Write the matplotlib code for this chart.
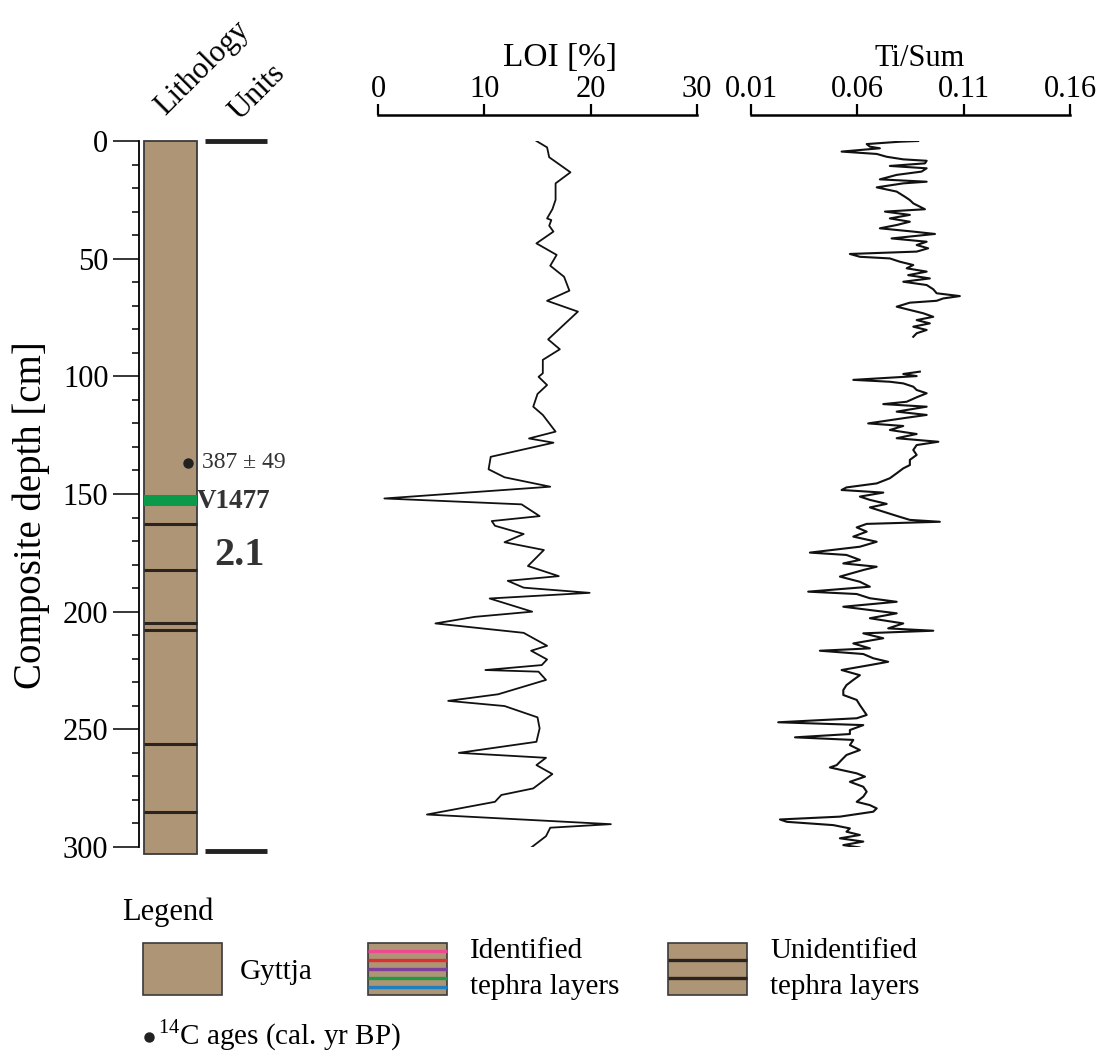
import matplotlib
matplotlib.use("Agg")
import matplotlib.pyplot as plt
import numpy as np
from matplotlib.patches import Rectangle

plt.rcParams['font.family'] = ['Liberation Serif', 'DejaVu Serif']
plt.rcParams['mathtext.fontset'] = 'custom'
plt.rcParams['mathtext.rm'] = 'Liberation Serif'

# LOI [%] against composite depth [cm]
loi_depth = [0.0, 2.7, 6.9, 13.3, 18.0, 25.0, 29.0, 32.9, 33.6, 36.0, 38.5, 43.5, 48.4, 53.0,
             57.7, 63.6, 67.9, 72.5, 84.3, 88.5, 93.0, 98.7, 100.2, 103.7, 107.5, 112.9, 116.4,
             123.5, 126.4, 128.2, 134.2, 139.5, 142.9, 146.9, 151.9, 154.4, 159.4, 161.5, 163.5,
             167.0, 170.5, 173.8, 180.6, 184.9, 186.9, 189.8, 192.0, 194.4, 200.0, 202.2, 205.0,
             209.0, 214.5, 216.6, 220.3, 222.7, 224.8, 225.5, 229.0, 235.1, 237.9, 240.1, 244.9,
             249.6, 255.3, 260.0, 262.1, 265.2, 269.0, 275.1, 277.9, 280.8, 286.2, 290.3, 291.8,
             295.4, 301.3]
loi_value = [14.9, 15.9, 16.1, 18.1, 16.7, 16.7, 16.4, 15.9, 16.3, 16.1, 16.5, 14.9, 16.8, 16.2,
             17.5, 18.0, 15.9, 18.8, 16.0, 17.1, 15.5, 15.5, 15.1, 15.9, 15.0, 14.6, 15.5,
             16.7, 14.2, 16.5, 10.6, 10.4, 11.9, 16.2, 0.6, 13.5, 15.2, 10.7, 11.0,
             13.7, 11.9, 15.6, 14.1, 17.0, 12.2, 13.7, 19.9, 10.5, 14.5, 9.1, 5.4,
             13.7, 15.9, 14.4, 15.9, 15.4, 10.1, 15.1, 15.8, 11.3, 6.6, 11.9, 15.0,
             15.2, 14.9, 7.6, 15.8, 14.9, 16.4, 14.6, 11.6, 11.0, 4.6, 21.9, 16.2,
             15.8, 14.1]

# Ti/Sum, upper section
ti_depth_1 = [0.0, 0.3, 1.3, 2.4, 3.1, 4.5, 5.5, 6.7, 7.8, 8.4, 9.5, 10.6, 11.6, 13.0, 14.4,
              16.3, 17.3, 18.0, 19.7, 21.5, 23.7, 25.1, 26.5, 29.0, 30.0, 31.4, 32.9, 34.3,
              35.7, 37.1, 38.5, 39.5, 41.4, 42.8, 44.2, 45.6, 47.0, 48.0, 49.2, 49.9, 51.3,
              52.7, 54.1, 55.5, 57.0, 58.4, 59.8, 61.2, 63.0, 64.7, 65.9, 66.9, 67.9, 68.7,
              70.4, 71.8, 73.2, 74.7, 76.1, 77.5, 78.9, 80.3, 81.7, 83.2]
ti_value_1 = [0.0886, 0.0800, 0.0644, 0.0659, 0.0706, 0.0526, 0.0691, 0.0738, 0.0816, 0.0926,
              0.0918, 0.0753, 0.0926, 0.0902, 0.0785, 0.0706, 0.0926, 0.0816, 0.0691, 0.0785,
              0.0824, 0.0847, 0.0863, 0.0918, 0.0730, 0.0847, 0.0753, 0.0847, 0.0785, 0.0706,
              0.0863, 0.0965, 0.0761, 0.0926, 0.0879, 0.0933, 0.0879, 0.0565, 0.0612, 0.0753,
              0.0800, 0.0863, 0.0832, 0.0926, 0.0839, 0.0941, 0.0816, 0.0926, 0.0957, 0.0973,
              0.1082, 0.1004, 0.0973, 0.0847, 0.0785, 0.0847, 0.0910, 0.0957, 0.0879, 0.0941,
              0.0863, 0.0926, 0.0879, 0.0863]

# Ti/Sum, lower section
ti_depth_2 = [98.0, 99.0, 99.9, 101.5, 102.3, 103.0, 104.4, 105.8, 107.2, 108.9, 110.8, 111.8,
              112.9, 115.0, 116.4, 117.8, 120.0, 121.1, 122.8, 124.5, 126.3, 127.8, 129.2,
              131.3, 133.4, 135.5, 137.7, 139.1, 141.2, 143.3, 145.5, 147.2, 148.3, 149.4,
              151.1, 152.5, 154.2, 155.7, 157.5, 159.3, 161.0, 161.8, 162.7, 164.2, 166.0,
              168.1, 170.3, 172.4, 174.9, 175.9, 178.0, 179.5, 180.9, 182.3, 185.1, 187.3,
              189.4, 191.5, 192.5, 194.3, 195.8, 197.9, 199.3, 200.7, 202.8, 205.0, 207.1,
              208.1, 209.2, 211.3, 213.5, 215.6, 216.6, 218.0, 219.8, 221.3, 222.7, 224.8,
              227.0, 229.0, 231.2, 233.3, 235.4, 237.5, 239.7, 241.8, 243.9, 245.3, 247.0,
              248.2, 250.3, 252.0, 253.4, 254.5, 256.7, 258.8, 260.9, 263.0, 265.2, 266.2,
              268.7, 270.1, 272.3, 274.4, 276.5, 278.6, 280.8, 282.2, 283.6, 285.0, 287.1,
              288.3, 289.3, 290.7, 292.1, 293.5, 294.9, 296.3, 297.7, 299.2, 300.2, 301.0]
ti_value_2 = [0.0894, 0.0816, 0.0879, 0.0581, 0.0753, 0.0816, 0.0863, 0.0879, 0.0926, 0.0879,
              0.0832, 0.0722, 0.0926, 0.0785, 0.0926, 0.0816, 0.0651, 0.0816, 0.0753, 0.0879,
              0.0785, 0.0981, 0.0879, 0.0863, 0.0879, 0.0847, 0.0847, 0.0816, 0.0785, 0.0753,
              0.0691, 0.0549, 0.0526, 0.0722, 0.0612, 0.0659, 0.0738, 0.0659, 0.0722, 0.0785,
              0.0847, 0.0988, 0.0644, 0.0597, 0.0644, 0.0581, 0.0691, 0.0612, 0.0377, 0.0549,
              0.0612, 0.0534, 0.0691, 0.0628, 0.0518, 0.0612, 0.0659, 0.0369, 0.0597, 0.0659,
              0.0785, 0.0534, 0.0659, 0.0785, 0.0659, 0.0816, 0.0745, 0.0957, 0.0628, 0.0722,
              0.0581, 0.0659, 0.0424, 0.0628, 0.0675, 0.0745, 0.0659, 0.0526, 0.0612, 0.0581,
              0.0549, 0.0534, 0.0534, 0.0597, 0.0612, 0.0628, 0.0644, 0.0597, 0.0228, 0.0628,
              0.0565, 0.0565, 0.0307, 0.0581, 0.0565, 0.0612, 0.0549, 0.0526, 0.0503, 0.0471,
              0.0597, 0.0636, 0.0565, 0.0628, 0.0644, 0.0628, 0.0597, 0.0659, 0.0691, 0.0675,
              0.0518, 0.0236, 0.0268, 0.0487, 0.0565, 0.0549, 0.0612, 0.0518, 0.0628, 0.0534,
              0.0612, 0.0549]

# lithology
core_base = 303.0
tephra_depths = [162.9, 182.5, 204.7, 207.8, 256.1, 285.0]
v1477_top, v1477_base = 150.4, 155.1
unit_bounds = [0.0, 301.7]
c14_depth = 136.7
c14_label = "387 \u00b1 49"

depth_ticks = [0, 50, 100, 150, 200, 250, 300]
loi_ticks = [0, 10, 20, 30]
ti_ticks = [0.01, 0.06, 0.11, 0.16]

tan = '#ae9576'
dark = '#2b241e'
green = '#0a9a49'

W, H = 1096, 1053
fig = plt.figure(figsize=(W / 100, H / 100), dpi=100)


def px_axes(left, top, right, bottom):
    return fig.add_axes([left / W, 1 - bottom / H, (right - left) / W, (bottom - top) / H])


# --- lithology column with depth axis
ax = px_axes(139, 141, 300, 847)
ax.set_xlim(0, 161)
ax.set_ylim(300, 0)
ax.bar(31.5, core_base, bottom=0, width=53, color=tan, edgecolor='#3a3a3a', linewidth=1.3,
       clip_on=False, zorder=2)
ax.bar(31.5, v1477_base - v1477_top, bottom=v1477_top, width=53, color=green, zorder=3)
ax.hlines(tephra_depths, 5, 58, colors=dark, linewidth=2.2, zorder=4)
ax.hlines(unit_bounds, 66, 128, colors='#222222', linewidth=3.5, clip_on=False)
ax.plot([49], [c14_depth], 'o', color='#222222', markersize=6.5, zorder=5)
ax.text(63, c14_depth, c14_label, fontsize=17, va='center', ha='left', color='#333333')
ax.text(58, (v1477_top + v1477_base) / 2 + 0.5, 'V1477', fontsize=19.5, fontweight='bold',
        va='center', ha='left', color='#333333')
ax.text(100, 176, '2.1', fontsize=29, fontweight='bold', va='center', ha='center',
        color='#333333')

for s in ['top', 'right', 'bottom']:
    ax.spines[s].set_visible(False)
ax.spines['left'].set_bounds(0, 300)
ax.spines['left'].set_linewidth(1.3)
ax.set_xticks([])
ax.set_yticks(depth_ticks)
ax.set_yticks(np.arange(0, 301, 10), minor=True)
ax.tick_params(axis='y', which='major', length=19, width=1.1, labelsize=22, pad=3)
ax.tick_params(axis='y', which='minor', length=5, width=1.1)
ax.patch.set_alpha(0)


def curve_axes(left, right):
    a = px_axes(left, 141, right, 847)
    a.set_ylim(300, 0)
    for s in ['left', 'right', 'bottom']:
        a.spines[s].set_visible(False)
    a.spines['top'].set_position(('outward', 18.7))
    a.spines['top'].set_linewidth(1.8)
    a.xaxis.set_ticks_position('top')
    a.xaxis.set_label_position('top')
    a.set_yticks([])
    a.tick_params(axis='x', length=8, width=1.6, labelsize=22, pad=0)
    a.patch.set_alpha(0)
    return a


# --- LOI
ax_loi = curve_axes(378, 697)
ax_loi.set_xlim(0, 30)
ax_loi.set_xticks(loi_ticks)
ax_loi.plot(loi_value, loi_depth, color='#111111', linewidth=1.3)

# --- Ti/Sum
ax_ti = curve_axes(751, 1070)
ax_ti.set_xlim(0.01, 0.16)
ax_ti.set_xticks(ti_ticks)
ax_ti.set_xticklabels(['%.2f' % t for t in ti_ticks])
ax_ti.plot(ti_value_1, ti_depth_1, color='#111111', linewidth=1.5)
ax_ti.plot(ti_value_2, ti_depth_2, color='#111111', linewidth=1.5)

# --- headers and legend in pixel space
ov = fig.add_axes([0, 0, 1, 1], zorder=-1)
ov.set_xlim(0, W)
ov.set_ylim(H, 0)
ov.axis('off')

ov.text(31, 515, 'Composite depth [cm]', fontsize=28, rotation=90, ha='center', va='center')
ov.text(560, 58, 'LOI [%]', fontsize=24, ha='center', va='center')
ov.text(920, 58, 'Ti/Sum', fontsize=22, ha='center', va='center')
ov.text(202, 68, 'Lithology', fontsize=22, rotation=45, ha='center', va='center')
ov.text(257, 92, 'Units', fontsize=22, rotation=45, ha='center', va='center')

ov.text(122, 912, 'Legend', fontsize=22, ha='left', va='center')
box_w, box_top, box_bot = 79, 943, 995
for bx in [143, 368, 668]:
    ov.add_patch(Rectangle((bx, box_top), box_w, box_bot - box_top, facecolor=tan,
                           edgecolor='#3a3a3a', linewidth=1.2))
stripe_cols = ['#ee4a92', '#dd3030', '#7f3f9c', '#1e9b48', '#1f7fc0']
stripe_y = [951, 960, 969, 978, 987]
ov.hlines(stripe_y, 368, 368 + box_w, colors=stripe_cols, linewidth=2.4)
ov.hlines([960, 978], 668, 668 + box_w, colors=dark, linewidth=2.4)
ov.text(240, 972, 'Gyttja', fontsize=21, ha='left', va='center')
ov.text(470, 951, 'Identified', fontsize=21, ha='left', va='center')
ov.text(470, 987, 'tephra layers', fontsize=21, ha='left', va='center')
ov.text(770, 951, 'Unidentified', fontsize=21, ha='left', va='center')
ov.text(770, 987, 'tephra layers', fontsize=21, ha='left', va='center')
ov.plot([149], [1037], 'o', color='#222222', markersize=6.5)
ov.text(158, 1035, r'$^{\mathrm{14}}$C ages (cal. yr BP)', fontsize=21, ha='left',
        va='center')

fig.savefig('out.png', dpi=100)
